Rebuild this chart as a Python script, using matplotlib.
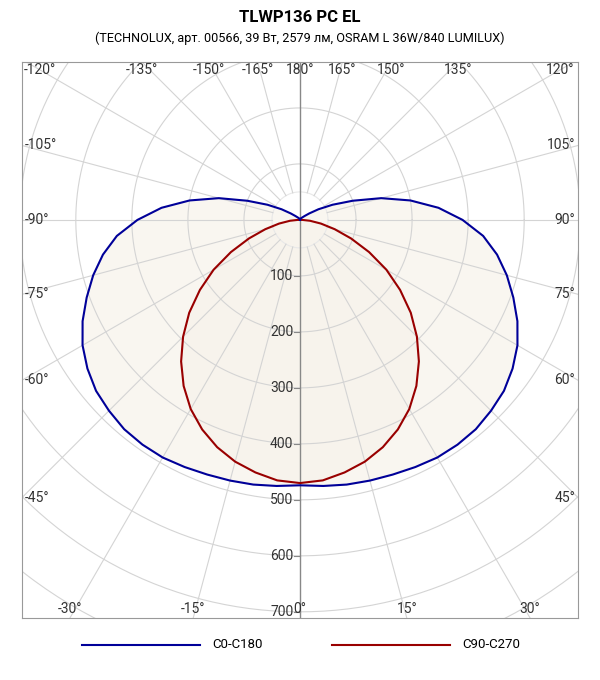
import numpy as np
import matplotlib
matplotlib.use("Agg")
import matplotlib.pyplot as plt
from matplotlib.lines import Line2D

plt.rcParams['font.family'] = ['Roboto', 'DejaVu Sans']

title = "TLWP136 PC EL"
subtitle = "(TECHNOLUX, арт. 00566, 39 Вт, 2579 лм, OSRAM L 36W/840 LUMILUX)"
series_names = ["C0-C180", "C90-C270"]
series_colors = ["#000099", "#990000"]
c0_angles = [0, 5, 10, 15, 20, 25, 30, 35, 40, 45, 50, 55, 60, 65, 70, 75, 80, 85, 90,
             95, 100, 105, 110, 115, 120, 125, 130, 135, 140, 150, 160, 170, 180]
c0_values = [474, 477, 480, 482, 484, 487, 490, 490, 488, 482, 475, 463, 448, 428, 405, 382, 357, 328, 290,
             248, 200, 150, 100, 64, 38, 20, 11, 7, 5, 3, 2, 1, 0]
c90_angles = [0, 5, 10, 15, 20, 25, 30, 35, 40, 45, 50, 55, 60, 65, 70, 75, 80, 85, 90, 180]
c90_values = [470, 467, 458, 447, 432, 413, 390, 362, 330, 295, 258, 218, 178, 136, 97, 64, 38, 18, 4, 0]
radial_ticks = [100, 200, 300, 400, 500, 600, 700]

XMIN, XMAX, YMIN, YMAX = -496, 496, -711, 282
GRID = "#d4d4d4"

fig = plt.figure(figsize=(6, 6.8), dpi=100)
ax = fig.add_axes([22/600, 62/680, 556/600, 556/680])
ax.set_xlim(XMIN, XMAX); ax.set_ylim(YMIN, YMAX)
ax.set_xticks([]); ax.set_yticks([])
for s in ax.spines.values():
    s.set_color("#999999"); s.set_linewidth(0.8)

def curve(angles, vals):
    a = np.array(angles, float); v = np.array(vals, float)
    aa = np.concatenate([-a[::-1], a[1:]])
    vv = np.concatenate([v[::-1], v[1:]])
    t = np.radians(aa)
    return vv*np.sin(t), -vv*np.cos(t)

x0, y0 = curve(c0_angles, c0_values)
x1, y1 = curve(c90_angles, c90_values)
ax.fill(x0, y0, color="#f9f6f0", zorder=0)
ax.fill(x1, y1, color="#f7f3ec", zorder=0)

th = np.linspace(0, 2*np.pi, 400)
ax.plot(50*np.cos(th), 50*np.sin(th), color="#e8e8e8", lw=0.8, zorder=1)
for r in range(100, 1000, 100):
    ax.plot(r*np.cos(th), r*np.sin(th), color=GRID, lw=0.8, zorder=1)
for a in range(-165, 181, 15):
    t = np.radians(a)
    if a in (0, 180):
        continue
    ax.plot([50*np.sin(t), 1200*np.sin(t)], [-50*np.cos(t), -1200*np.cos(t)], color=GRID, lw=0.8, zorder=1)
ax.plot([0, 0], [YMIN, YMAX], color="#888888", lw=1, zorder=2)

ax.plot(x1, y1, color=series_colors[1], lw=1.5, zorder=4)
ax.plot(x0, y0, color=series_colors[0], lw=1.5, zorder=4)

for r in radial_ticks:
    ax.plot([-11, 0], [-r, -r], color="#888888", lw=0.8, zorder=2)
    ax.text(-12, -r, str(r), ha="right", va="center", fontsize=10, color="#333333", zorder=5)

for a in range(-165, 181, 15):
    t = np.radians(a)
    dx, dy = np.sin(t), -np.cos(t)
    cands = []
    if dx > 1e-9: cands.append(XMAX/dx)
    if dx < -1e-9: cands.append(XMIN/dx)
    if dy > 1e-9: cands.append(YMAX/dy)
    if dy < -1e-9: cands.append(YMIN/dy)
    s = min(cands)
    px, py = s*dx, s*dy
    lab = f"{a}°"
    if abs(py - YMAX) < 1:
        ax.text(np.clip(px, XMIN+32, XMAX-32), YMAX-14, lab, ha="center", va="center", fontsize=10, color="#333333")
    elif abs(py - YMIN) < 1:
        ax.text(np.clip(px, XMIN+32, XMAX-32), YMIN+16, lab, ha="center", va="center", fontsize=10, color="#333333")
    elif abs(px - XMIN) < 1:
        ax.text(XMIN+5, py, lab, ha="left", va="center", fontsize=10, color="#333333")
    else:
        ax.text(XMAX-5, py, lab, ha="right", va="center", fontsize=10, color="#333333")

fig.text(0.5, 1-17/680, title, ha="center", va="center", fontsize=12, fontweight="bold")
fig.text(0.5, 1-38/680, subtitle, ha="center", va="center", fontsize=9.1)

ly = 1-645/680
fig.add_artist(Line2D([82/600, 200/600], [ly, ly], color=series_colors[0], lw=1.5))
fig.text(212/600, ly, series_names[0], va="center", fontsize=9.5)
fig.add_artist(Line2D([332/600, 450/600], [ly, ly], color=series_colors[1], lw=1.5))
fig.text(462/600, ly, series_names[1], va="center", fontsize=9.5)

fig.savefig("out.png", dpi=100)
